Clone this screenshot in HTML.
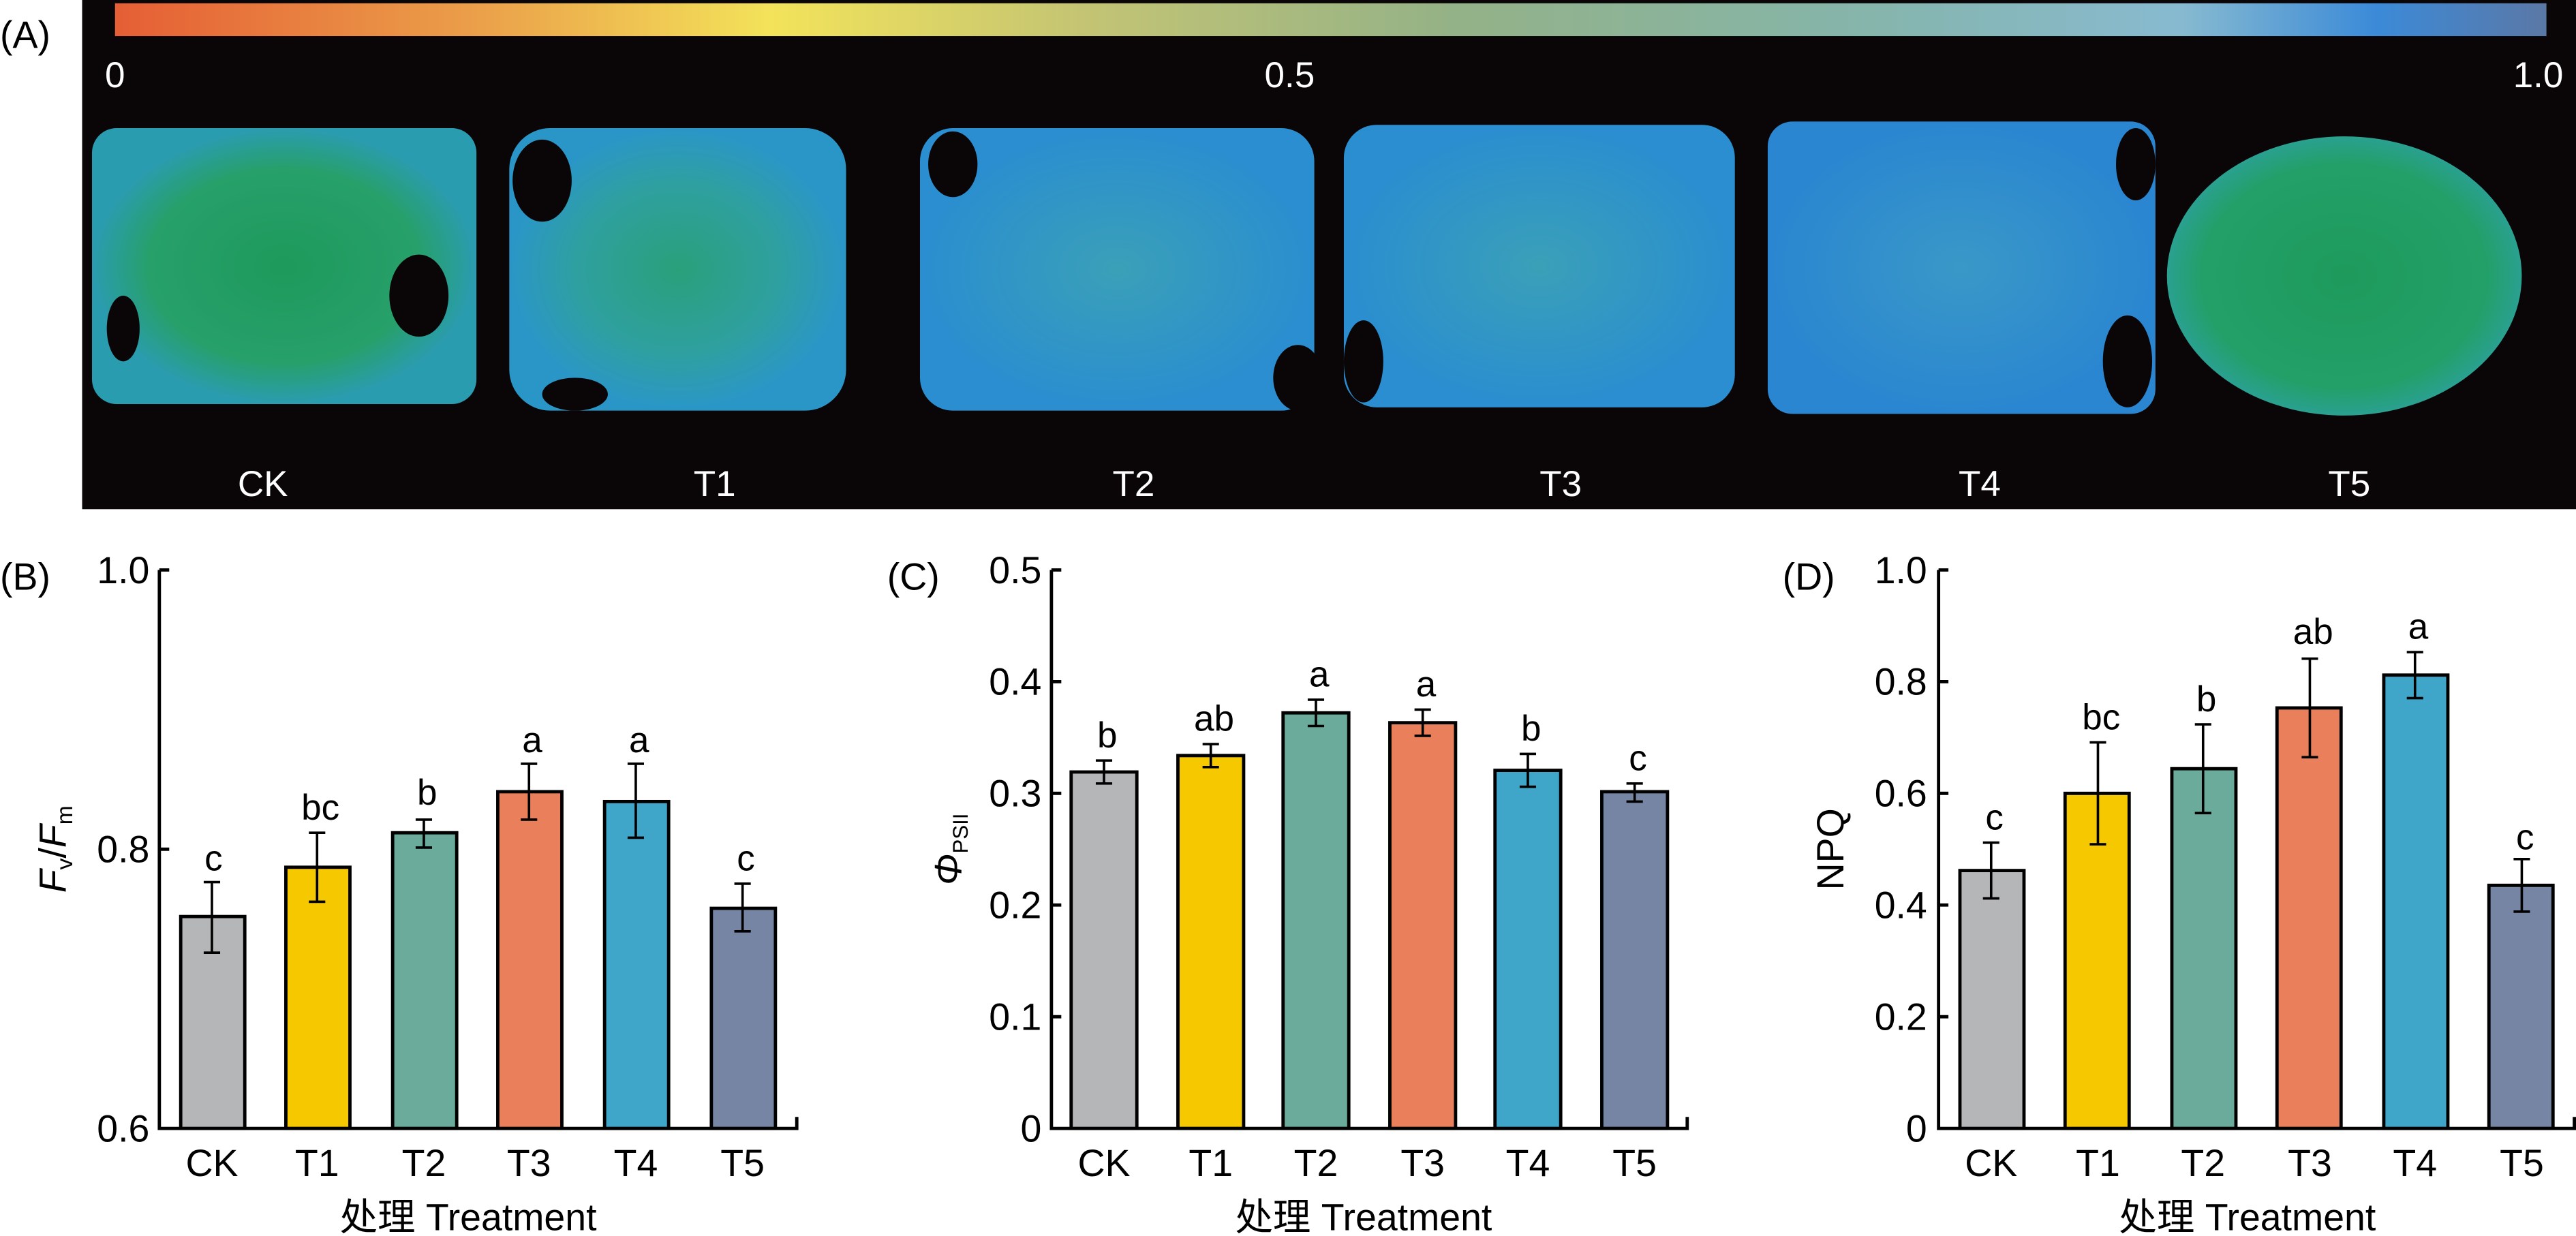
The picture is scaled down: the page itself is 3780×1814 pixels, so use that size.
<!DOCTYPE html>
<html><head><meta charset="utf-8"><style>
html,body{margin:0;padding:0;background:#fff;}
svg{display:block;}
text{font-family:"Liberation Sans","Noto Sans CJK SC",sans-serif;}
</style></head><body>
<svg width="3780" height="1814" viewBox="0 0 1568 752.5" preserveAspectRatio="none" xmlns="http://www.w3.org/2000/svg">
<defs>
<linearGradient id="cb" x1="0" x2="1" y1="0" y2="0">
<stop offset="0" stop-color="#e55e35"/>
<stop offset="0.15" stop-color="#eba04a"/>
<stop offset="0.27" stop-color="#f3e35a"/>
<stop offset="0.4" stop-color="#c3c474"/>
<stop offset="0.55" stop-color="#94b287"/>
<stop offset="0.7" stop-color="#86b4a6"/>
<stop offset="0.85" stop-color="#87bad0"/>
<stop offset="0.93" stop-color="#3b8ad8"/>
<stop offset="1" stop-color="#5b78a6"/>
</linearGradient>
<radialGradient id="g1"><stop offset="0" stop-color="#1e9a5c"/><stop offset="0.7" stop-color="#27a06a"/><stop offset="1" stop-color="#2a9cb0"/></radialGradient>
<radialGradient id="g2"><stop offset="0" stop-color="#2aa07a"/><stop offset="0.6" stop-color="#2fa0a0"/><stop offset="1" stop-color="#2a96c8"/></radialGradient>
<radialGradient id="g3"><stop offset="0" stop-color="#3aa0b8"/><stop offset="1" stop-color="#2a8ed0"/></radialGradient>
<radialGradient id="g4"><stop offset="0" stop-color="#3a98c8"/><stop offset="1" stop-color="#2a86d0"/></radialGradient>
<radialGradient id="g5"><stop offset="0" stop-color="#1e9a5c"/><stop offset="0.8" stop-color="#22a068"/><stop offset="1" stop-color="#2aa090"/></radialGradient>
</defs>
<text x="0" y="29" font-size="23">(A)</text>
<rect x="50" y="0" width="1518" height="310" fill="#0a0608"/>
<rect x="70" y="2" width="1480" height="20" fill="url(#cb)"/>
<g fill="#fff" font-size="22">
<text x="70" y="53" text-anchor="middle">0</text>
<text x="785" y="53" text-anchor="middle">0.5</text>
<text x="1545" y="53" text-anchor="middle">1.0</text>
<text x="160" y="302" text-anchor="middle">CK</text>
<text x="435" y="302" text-anchor="middle">T1</text>
<text x="690" y="302" text-anchor="middle">T2</text>
<text x="950" y="302" text-anchor="middle">T3</text>
<text x="1205" y="302" text-anchor="middle">T4</text>
<text x="1430" y="302" text-anchor="middle">T5</text>
</g>
<g>
<rect x="56" y="78" width="234" height="168" rx="15" fill="url(#g1)"/>
<ellipse cx="255" cy="180" rx="18" ry="25" fill="#0a0608"/>
<ellipse cx="75" cy="200" rx="10" ry="20" fill="#0a0608"/>
<rect x="310" y="78" width="205" height="172" rx="25" fill="url(#g2)"/>
<ellipse cx="330" cy="110" rx="18" ry="25" fill="#0a0608"/>
<ellipse cx="350" cy="240" rx="20" ry="10" fill="#0a0608"/>
<rect x="560" y="78" width="240" height="172" rx="20" fill="url(#g3)"/>
<ellipse cx="580" cy="100" rx="15" ry="20" fill="#0a0608"/>
<ellipse cx="790" cy="230" rx="15" ry="20" fill="#0a0608"/>
<rect x="818" y="76" width="238" height="172" rx="20" fill="url(#g3)"/>
<ellipse cx="830" cy="220" rx="12" ry="25" fill="#0a0608"/>
<rect x="1076" y="74" width="236" height="178" rx="15" fill="url(#g4)"/>
<ellipse cx="1300" cy="100" rx="12" ry="22" fill="#0a0608"/>
<ellipse cx="1295" cy="220" rx="15" ry="28" fill="#0a0608"/>
<ellipse cx="1427" cy="168" rx="108" ry="85" fill="url(#g5)"/>
</g>
<!-- Panel B -->
<text x="0" y="359" font-size="23">(B)</text>
<g stroke="#000" stroke-width="2" fill="none">
<path d="M97 347 V687 H485 V680"/>
<path d="M97 347 H103 M97 517 H103"/>
</g>
<g font-size="23" text-anchor="end"><text x="91" y="355">1.0</text><text x="91" y="525">0.8</text><text x="91" y="695">0.6</text></g>
<text transform="translate(40 517) rotate(-90)" font-size="23" text-anchor="middle"><tspan font-style="italic">F</tspan><tspan font-size="14" dy="4">v</tspan><tspan dy="-4">/</tspan><tspan font-style="italic">F</tspan><tspan font-size="14" dy="4">m</tspan></text>
<g stroke="#000" stroke-width="2">
<rect x="110" y="558" width="39" height="129" fill="#b5b6b8"/>
<rect x="174" y="528" width="39" height="159" fill="#f5c800"/>
<rect x="239" y="507" width="39" height="180" fill="#6aab9c"/>
<rect x="303" y="482" width="39" height="205" fill="#e9805b"/>
<rect x="368" y="488" width="39" height="199" fill="#3fa6c9"/>
<rect x="433" y="553" width="39" height="134" fill="#7585a3"/>
<path fill="none" stroke-width="1.5" d="M129 537V580M124 537H134M124 580H134 M193 507V549M188 507H198M188 549H198 M258 499V516M253 499H263M253 516H263 M322 465V499M317 465H327M317 499H327 M387 465V510M382 465H392M382 510H392 M452 538V567M447 538H457M447 567H457"/>
</g>
<g font-size="22" text-anchor="middle">
<text x="130" y="530">c</text><text x="195" y="499">bc</text><text x="260" y="490">b</text><text x="324" y="458">a</text><text x="389" y="458">a</text><text x="454" y="530">c</text>
</g>
<g font-size="23" text-anchor="middle">
<text x="129" y="716">CK</text><text x="193" y="716">T1</text><text x="258" y="716">T2</text><text x="322" y="716">T3</text><text x="387" y="716">T4</text><text x="452" y="716">T5</text>
<text x="285" y="749">处理 Treatment</text>
</g>
<!-- Panel C -->
<text x="540" y="359" font-size="23">(C)</text>
<g stroke="#000" stroke-width="2" fill="none">
<path d="M640 347 V687 H1027 V680"/>
<path d="M640 347H646M640 415H646M640 483H646M640 551H646M640 619H646"/>
</g>
<g font-size="23" text-anchor="end"><text x="634" y="355">0.5</text><text x="634" y="423">0.4</text><text x="634" y="491">0.3</text><text x="634" y="559">0.2</text><text x="634" y="627">0.1</text><text x="634" y="695">0</text></g>
<text transform="translate(585 517) rotate(-90)" font-size="23" text-anchor="middle"><tspan font-style="italic">Φ</tspan><tspan font-size="13" dy="4">PSII</tspan></text>
<g stroke="#000" stroke-width="2">
<rect x="652" y="470" width="40" height="217" fill="#b5b6b8"/>
<rect x="717" y="460" width="40" height="227" fill="#f5c800"/>
<rect x="781" y="434" width="40" height="253" fill="#6aab9c"/>
<rect x="846" y="440" width="40" height="247" fill="#e9805b"/>
<rect x="910" y="469" width="40" height="218" fill="#3fa6c9"/>
<rect x="975" y="482" width="40" height="205" fill="#7585a3"/>
<path fill="none" stroke-width="1.5" d="M672 463V477M667 463H677M667 477H677 M737 453V467M732 453H742M732 467H742 M801 426V442M796 426H806M796 442H806 M866 432V448M861 432H871M861 448H871 M930 459V479M925 459H935M925 479H935 M995 477V488M990 477H1000M990 488H1000"/>
</g>
<g font-size="22" text-anchor="middle">
<text x="674" y="455">b</text><text x="739" y="445">ab</text><text x="803" y="418">a</text><text x="868" y="424">a</text><text x="932" y="451">b</text><text x="997" y="469">c</text>
</g>
<g font-size="23" text-anchor="middle">
<text x="672" y="716">CK</text><text x="737" y="716">T1</text><text x="801" y="716">T2</text><text x="866" y="716">T3</text><text x="930" y="716">T4</text><text x="995" y="716">T5</text>
<text x="830" y="749">处理 Treatment</text>
</g>
<!-- Panel D -->
<text x="1085" y="359" font-size="23">(D)</text>
<g stroke="#000" stroke-width="2" fill="none">
<path d="M1180 347 V687 H1567 V680"/>
<path d="M1180 347H1186M1180 415H1186M1180 483H1186M1180 551H1186M1180 619H1186"/>
</g>
<g font-size="23" text-anchor="end"><text x="1173" y="355">1.0</text><text x="1173" y="423">0.8</text><text x="1173" y="491">0.6</text><text x="1173" y="559">0.4</text><text x="1173" y="627">0.2</text><text x="1173" y="695">0</text></g>
<text transform="translate(1122 517) rotate(-90)" font-size="23" text-anchor="middle">NPQ</text>
<g stroke="#000" stroke-width="2">
<rect x="1193" y="530" width="39" height="157" fill="#b5b6b8"/>
<rect x="1257" y="483" width="39" height="204" fill="#f5c800"/>
<rect x="1322" y="468" width="39" height="219" fill="#6aab9c"/>
<rect x="1386" y="431" width="39" height="256" fill="#e9805b"/>
<rect x="1451" y="411" width="39" height="276" fill="#3fa6c9"/>
<rect x="1515" y="539" width="39" height="148" fill="#7585a3"/>
<path fill="none" stroke-width="1.5" d="M1212 513V547M1207 513H1217M1207 547H1217 M1277 452V514M1272 452H1282M1272 514H1282 M1341 441V495M1336 441H1346M1336 495H1346 M1406 401V461M1401 401H1411M1401 461H1411 M1470 397V425M1465 397H1475M1465 425H1475 M1535 523V555M1530 523H1540M1530 555H1540"/>
</g>
<g font-size="22" text-anchor="middle">
<text x="1214" y="505">c</text><text x="1279" y="444">bc</text><text x="1343" y="433">b</text><text x="1408" y="392">ab</text><text x="1472" y="389">a</text><text x="1537" y="517">c</text>
</g>
<g font-size="23" text-anchor="middle">
<text x="1212" y="716">CK</text><text x="1277" y="716">T1</text><text x="1341" y="716">T2</text><text x="1406" y="716">T3</text><text x="1470" y="716">T4</text><text x="1535" y="716">T5</text>
<text x="1368" y="749">处理 Treatment</text>
</g>
</svg>
</body></html>
